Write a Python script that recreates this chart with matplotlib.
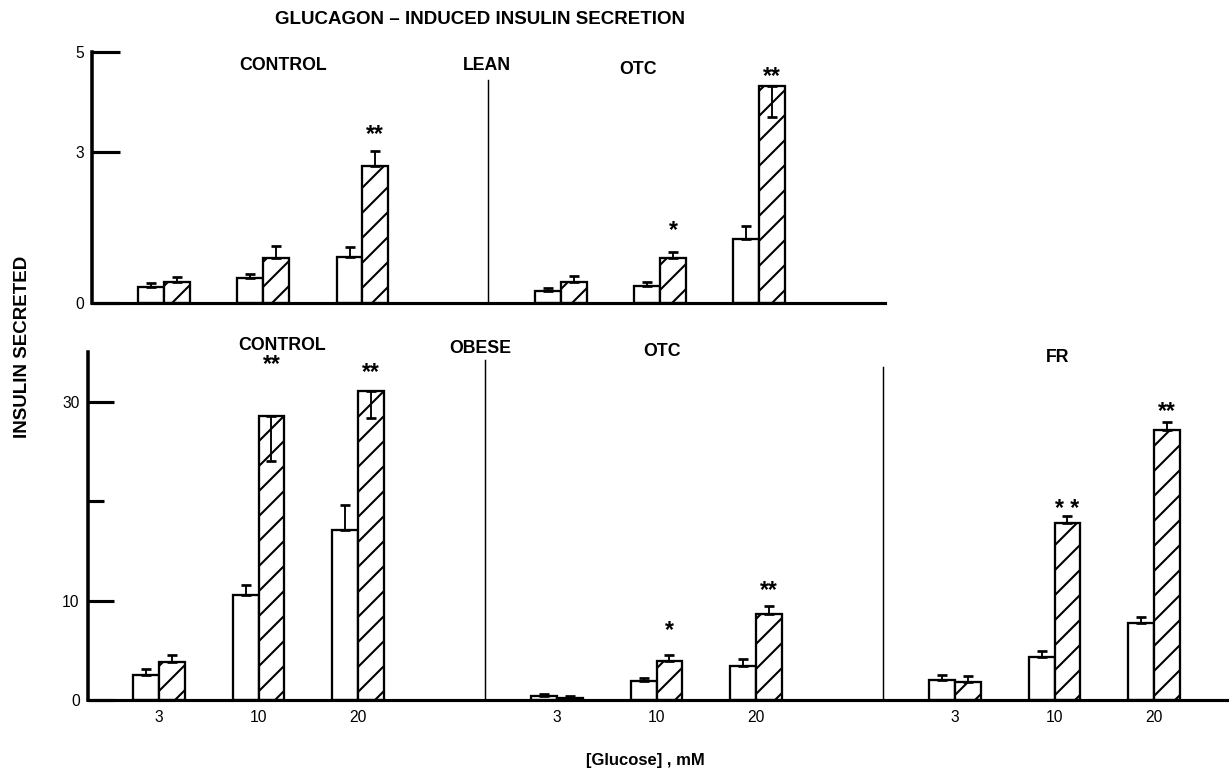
import numpy as np
import matplotlib
matplotlib.use("Agg")
import matplotlib.pyplot as plt

plt.rcParams['font.family'] = ['Liberation Sans', 'DejaVu Sans']
plt.rcParams['hatch.linewidth'] = 1.0

# -------------------------------------------------
# data: insulin secreted, white = glucose alone, hatched = + glucagon
# negative error means the bar is drawn downward from the top
# -------------------------------------------------
glucose = ["3", "10", "20"]

lean_ctrl_base = [0.32, 0.50, 0.92]
lean_ctrl_base_err = [0.08, 0.08, 0.20]
lean_ctrl_gluc = [0.42, 0.90, 2.72]
lean_ctrl_gluc_err = [0.10, 0.24, 0.30]
lean_ctrl_sig = ["", "", "**"]

lean_otc_base = [0.24, 0.34, 1.28]
lean_otc_base_err = [0.05, 0.08, 0.26]
lean_otc_gluc = [0.42, 0.90, 4.32]
lean_otc_gluc_err = [0.12, 0.12, -0.62]
lean_otc_sig = ["", "*", "**"]

obese_ctrl_base = [2.5, 10.6, 17.1]
obese_ctrl_base_err = [0.6, 1.0, 2.5]
obese_ctrl_gluc = [3.8, 28.6, 31.1]
obese_ctrl_gluc_err = [0.7, -4.6, -2.7]
obese_ctrl_sig = ["", "**", "**"]

obese_otc_base = [0.4, 1.9, 3.4]
obese_otc_base_err = [0.2, 0.3, 0.7]
obese_otc_gluc = [0.2, 3.9, 8.6]
obese_otc_gluc_err = [0.2, 0.6, 0.9]
obese_otc_sig = ["", "*", "**"]

obese_fr_base = [2.0, 4.3, 7.7]
obese_fr_base_err = [0.5, 0.6, 0.6]
obese_fr_gluc = [1.8, 17.8, 27.2]
obese_fr_gluc_err = [0.6, 0.7, 0.8]
obese_fr_sig = ["", "* *", "**"]

# -------------------------------------------------
# layout (pixels)
# -------------------------------------------------
W, H, DPI = 1229, 772, 150
BW = 0.26  # bar width in group units

fig = plt.figure(figsize=(W / DPI, H / DPI), dpi=DPI)


def px_axes(left, top, right, bottom):
    return fig.add_axes([left / W, 1 - bottom / H, (right - left) / W, (bottom - top) / H])


def px_text(x, y, s, **kw):
    fig.text(x / W, 1 - y / H, s, ha="center", va="center", **kw)


def draw_group(ax, pos, base, base_err, gluc, gluc_err, sig, star_px):
    pos = np.asarray(pos, float)
    ax.bar(pos - BW / 2, base, BW, facecolor="white", edgecolor="black", lw=1.1, zorder=2)
    ax.bar(pos + BW / 2, gluc, BW, facecolor="white", edgecolor="black", lw=1.1,
           hatch="//", zorder=2)
    for xs, vals, err in ((pos - BW / 2, base, base_err), (pos + BW / 2, gluc, gluc_err)):
        err = np.asarray(err, float)
        lo = np.where(err < 0, -err, 0)
        hi = np.where(err > 0, err, 0)
        ax.errorbar(xs, vals, yerr=[lo, hi], fmt="none", ecolor="black",
                    elinewidth=0.9, capsize=2.2, capthick=1.3, zorder=3)
    tops = np.maximum(gluc, np.asarray(gluc) + np.asarray(gluc_err))
    for x, t, s, off in zip(pos + BW / 2, tops, sig, star_px):
        if s:
            ax.annotate(s, (x, t), xytext=(0, off * 72 / DPI), textcoords="offset points",
                        ha="center", va="center", fontsize=11, fontweight="bold")


def style_axis(ax):
    for side in ("top", "right"):
        ax.spines[side].set_visible(False)
    ax.spines["left"].set_linewidth(1.7)
    ax.spines["bottom"].set_linewidth(1.5)
    ax.tick_params(axis="y", direction="in", width=1.5, pad=4, labelsize=7.5)
    ax.patch.set_alpha(0)


# ---------------- lean (top) ----------------
ax_top = px_axes(92, 52, 885, 303)
ax_top.set_xlim(-(164 - 92) / 99.2, (885 - 164) / 99.2)
ax_top.set_ylim(0, 5)
style_axis(ax_top)
ax_top.set_yticks([0, 3, 5])
ax_top.set_yticklabels(["0", "3", "5"])
ax_top.tick_params(axis="y", length=13.5)
ax_top.set_xticks([])

draw_group(ax_top, [0, 1, 2], lean_ctrl_base, lean_ctrl_base_err,
           lean_ctrl_gluc, lean_ctrl_gluc_err, lean_ctrl_sig, [0, 0, 17])
draw_group(ax_top, [4, 5, 6], lean_otc_base, lean_otc_base_err,
           lean_otc_gluc, lean_otc_gluc_err, lean_otc_sig, [0, 21, 10])
ax_top.plot([3.266, 3.266], [0, 4.44], color="black", lw=0.7)

# ---------------- obese (bottom) ----------------
ax_bot = px_axes(88, 352, 1229, 700)
ax_bot.set_xlim(-(159 - 88) / 99.5, (1229 - 159) / 99.5)
ax_bot.set_ylim(0, 35)
style_axis(ax_bot)
ax_bot.set_yticks([0, 10, 30])
ax_bot.set_yticklabels(["0", "10", "30"])
ax_bot.set_yticks([20], minor=True)
ax_bot.tick_params(axis="y", which="major", length=12.5)
ax_bot.tick_params(axis="y", which="minor", direction="in", length=7.5, width=1.5)

positions = [0, 1, 2, 4, 5, 6, 8, 9, 10]
ax_bot.set_xticks(positions)
ax_bot.set_xticklabels(glucose * 3)
ax_bot.tick_params(axis="x", length=0, pad=5, labelsize=7.5)

draw_group(ax_bot, [0, 1, 2], obese_ctrl_base, obese_ctrl_base_err,
           obese_ctrl_gluc, obese_ctrl_gluc_err, obese_ctrl_sig, [0, 51, 18])
draw_group(ax_bot, [4, 5, 6], obese_otc_base, obese_otc_base_err,
           obese_otc_gluc, obese_otc_gluc_err, obese_otc_sig, [0, 25, 15])
draw_group(ax_bot, [8, 9, 10], obese_fr_base, obese_fr_base_err,
           obese_fr_gluc, obese_fr_gluc_err, obese_fr_sig, [0, 7, 10])
ax_bot.plot([3.276, 3.276], [0, 34.2], color="black", lw=0.7)
ax_bot.plot([7.276, 7.276], [0, 33.5], color="black", lw=0.7)

# ---------------- text ----------------
px_text(480, 19, "GLUCAGON – INDUCED INSULIN SECRETION", fontsize=9, fontweight="bold")
px_text(283, 66, "CONTROL", fontsize=8.5, fontweight="bold")
px_text(487, 66, "LEAN", fontsize=8.5, fontweight="bold")
px_text(638, 70, "OTC", fontsize=8.5, fontweight="bold")
px_text(282, 345, "CONTROL", fontsize=8.5, fontweight="bold")
px_text(480, 348, "OBESE", fontsize=8.5, fontweight="bold")
px_text(662, 351, "OTC", fontsize=8.5, fontweight="bold")
px_text(1058, 357, "FR", fontsize=8.5, fontweight="bold")
px_text(23, 347, "INSULIN SECRETED", rotation=90, fontsize=9, fontweight="bold")
px_text(645, 760, "[Glucose] , mM", fontsize=8, fontweight="bold")

fig.savefig("out.png", dpi=DPI)
